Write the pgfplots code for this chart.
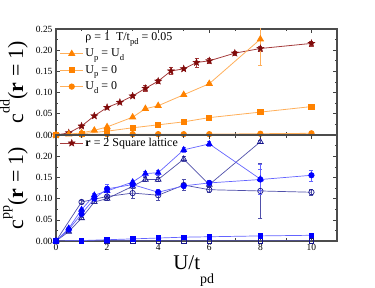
\documentclass[border=0pt]{standalone}
\usepackage{pgfplots}
\pgfplotsset{compat=1.18}
\usepackage{fontspec}
\setmainfont{Liberation Serif}
\usetikzlibrary{plotmarks}
\definecolor{dred}{RGB}{128,10,10}
\definecolor{dredl}{RGB}{165,60,60}
\definecolor{orm}{RGB}{255,130,0}
\definecolor{orl}{RGB}{255,175,90}
\definecolor{bm}{RGB}{0,0,255}
\definecolor{bl}{RGB}{100,100,255}
\definecolor{nv}{RGB}{20,20,140}
\definecolor{nvl}{RGB}{80,80,170}

\pgfdeclareplotmark{fstar}{%
  \pgfpathmoveto{\pgfpointpolar{90}{\pgfplotmarksize}}%
  \pgfpathlineto{\pgfpointpolar{126}{0.42\pgfplotmarksize}}%
  \pgfpathlineto{\pgfpointpolar{162}{\pgfplotmarksize}}%
  \pgfpathlineto{\pgfpointpolar{198}{0.42\pgfplotmarksize}}%
  \pgfpathlineto{\pgfpointpolar{234}{\pgfplotmarksize}}%
  \pgfpathlineto{\pgfpointpolar{270}{0.42\pgfplotmarksize}}%
  \pgfpathlineto{\pgfpointpolar{306}{\pgfplotmarksize}}%
  \pgfpathlineto{\pgfpointpolar{342}{0.42\pgfplotmarksize}}%
  \pgfpathlineto{\pgfpointpolar{18}{\pgfplotmarksize}}%
  \pgfpathlineto{\pgfpointpolar{54}{0.42\pgfplotmarksize}}%
  \pgfpathclose
  \pgfusepathqfillstroke}

\newcommand{\sub}[1]{\raisebox{-0.3em}{\fontsize{0.72em}{1em}\selectfont #1}}

\pgfplotstableread{
x y e
0 0 0
0.5 0.005 0.001
1 0.021 0.002
1.5 0.045 0.002
2 0.065 0.002
2.5 0.077 0.002
3 0.092 0.003
3.5 0.110 0.007
4 0.127 0.004
4.5 0.151 0.008
5 0.156 0.004
5.5 0.171 0.011
6 0.175 0.006
7 0.193 0.005
8 0.204 0.006
10 0.216 0.006
}\stars
\pgfplotstableread{
x y e
0 0 0
0.5 0.002 0
1 0.005 0.001
1.5 0.011 0.001
2 0.019 0.002
3 0.042 0.002
3.5 0.062 0.002
4 0.069 0.002
5 0.095 0.003
6 0.121 0.004
8 0.226 0.061
}\otri
\pgfplotstableread{
x y e
0 0 0
1 0.003 0
2 0.009 0
3 0.017 0
4 0.024 0
5 0.031 0
6 0.041 0
8 0.054 0
10 0.067 0
}\osq
\pgfplotstableread{
x y e
0 0 0
1 0.001 0
2 0.002 0
3 0.002 0
4 0.002 0
5 0.002 0
6 0.002 0
8 0.003 0
10 0.004 0
}\ocirc
\pgfplotstableread{
x y e
0 0 0
0.5 0.030 0.003
1 0.074 0.004
1.5 0.108 0.004
2 0.118 0.010
3 0.139 0.004
3.5 0.159 0.006
4 0.161 0.007
5 0.215 0.006
6 0.229 0.006
8 0.146 0.035
}\bftri
\pgfplotstableread{
x y e
0 0 0
0.5 0.022 0.002
1 0.054 0.003
1.5 0.092 0.004
2 0.100 0.004
3 0.129 0.004
3.5 0.145 0.005
4 0.145 0.005
5 0.193 0.006
6 0.133 0.005
8 0.234 0.004
}\botri
\pgfplotstableread{
x y e
0 0 0
0.5 0.027 0.002
1 0.064 0.003
1.5 0.100 0.004
2 0.123 0.012
3 0.133 0.005
4 0.115 0.006
5 0.130 0.006
6 0.137 0.006
8 0.145 0.025
10 0.155 0.013
}\bfcirc
\pgfplotstableread{
x y e
0 0 0
1 0.092 0.003
2 0.105 0.004
3 0.113 0.012
4 0.108 0.012
5 0.132 0.013
6 0.121 0.005
8 0.118 0.065
10 0.115 0.007
}\bocirc
\pgfplotstableread{
x y e
0 0 0
1 0.001 0
2 0.003 0
3 0.005 0
4 0.007 0
5 0.009 0
6 0.010 0
8 0.012 0
10 0.0135 0
}\bfsq
\pgfplotstableread{
x y e
0 0 0
1 0.0005 0
2 0.0005 0
3 0.0005 0
4 0.0005 0
5 0.0005 0
6 0.0005 0
8 0.0005 0
10 0.0005 0
}\bosq

\begin{document}
\begin{tikzpicture}
\pgfplotsset{
  panel/.style={scale only axis, width=281bp, height=106bp,
    xmin=0, xmax=11, ymin=0, ymax=0.25,
    xtick={0,2,4,6,8,10}, minor xtick={1,3,5,7,9},
    minor ytick={0.025,0.075,0.125,0.175,0.225},
    tick align=inside, major tick length=4bp, minor tick length=2.5bp,
    axis line style={black!70, line width=1.1bp},
    every tick/.style={black!75, line width=0.6bp},
    tick label style={font=\fontsize{9.5}{10}\selectfont},
    /pgf/number format/assume math mode=true,
    y tick label style={/pgf/number format/fixed, /pgf/number format/fixed zerofill, /pgf/number format/precision=2},
    ylabel style={at={(axis description cs:-0.117,0.5)}, anchor=base, font=\fontsize{22}{24}\selectfont},
    legend cell align=left,
    legend image code/.code={\draw[mark repeat=2,mark phase=2] plot coordinates {(0cm,0cm)(0.4cm,0cm)(0.8cm,0cm)};},
  },
  starsty/.style={color=dredl, line width=0.8bp, mark=fstar, mark size=3.8bp, mark options={fill=dred, draw=dred, line width=0.3bp}},
  otristy/.style={color=orl, line width=0.8bp, mark=triangle*, mark size=3.5bp, mark options={fill=orm, draw=orm}},
  osqsty/.style={color=orl, line width=0.8bp, mark=square*, mark size=2.6bp, mark options={fill=orm, draw=orm}},
  ocircsty/.style={color=orl, line width=0.8bp, mark=*, mark size=2.7bp, mark options={fill=orm, draw=orm}},
}
% top panel
\begin{axis}[panel, at={(56bp,153bp)}, anchor=south west,
  xticklabels={}, ytick={0,0.05,0.1,0.15,0.2,0.25},
  ylabel={c\raisebox{0.62em}{\fontsize{14}{14}\selectfont dd}(\textbf{r} = 1)},
  legend style={draw=none, fill=none, at={(axis description cs:0.01,0.995)}, anchor=north west,
    font=\fontsize{12}{13}\selectfont, row sep=3bp, inner sep=1bp}]
\addlegendimage{empty legend}
\addlegendentry{ρ = 1\enspace T/t\sub{pd} = 0.05}
\addplot[starsty, forget plot, error bars/.cd, y dir=both, y explicit, error bar style={color=dredl, line width=0.5bp}, error mark options={rotate=90, mark size=2bp, color=dredl, line width=0.5bp}] table[x=x, y=y, y error=e] {\stars};
\addplot[otristy, error bars/.cd, y dir=both, y explicit, error bar style={color=orl, line width=0.5bp}, error mark options={rotate=90, mark size=2bp, color=orl, line width=0.5bp}] table[x=x, y=y, y error=e] {\otri};
\addlegendentry{U\sub{p} = U\sub{d}}
\addplot[osqsty] table[x=x, y=y] {\osq};
\addlegendentry{U\sub{p} = 0}
\addplot[ocircsty] table[x=x, y=y] {\ocirc};
\addlegendentry{U\sub{d} = 0}
\end{axis}
% bottom panel
\begin{axis}[panel, at={(56bp,47bp)}, anchor=south west,
  ytick={0,0.05,0.1,0.15,0.2},
  ylabel={c\raisebox{0.62em}{\fontsize{14}{14}\selectfont pp}(\textbf{r} = 1)},
  xlabel={U/t\raisebox{-14bp}{\fontsize{14}{14}\selectfont pd}},
  xlabel style={at={(axis description cs:0.49,0)}, anchor=north, yshift=-11bp, font=\fontsize{21}{22}\selectfont},
  legend style={draw=none, fill=none, at={(axis description cs:0.01,1.0)}, anchor=north west,
    font=\fontsize{12}{13}\selectfont, inner sep=1bp}]
\addlegendimage{starsty}
\addlegendentry{\textbf{r} = 2 Square lattice}
\addplot[forget plot, color=nvl, line width=0.7bp, mark=square, mark size=2.3bp, mark options={draw=nv, fill=white}] table[x=x, y=y] {\bosq};
\addplot[forget plot, color=bl, line width=0.7bp, mark=square*, mark size=2.3bp, mark options={draw=bm, fill=bm}] table[x=x, y=y] {\bfsq};
\addplot[forget plot, color=nvl, line width=0.7bp, mark=o, mark size=2.7bp, mark options={draw=nv, fill=white},
  error bars/.cd, y dir=both, y explicit, error bar style={color=nvl, line width=0.5bp}, error mark options={rotate=90, mark size=2bp, color=nvl, line width=0.5bp}] table[x=x, y=y, y error=e] {\bocirc};
\addplot[forget plot, color=nvl, line width=0.7bp, mark=triangle, mark size=3.3bp, mark options={draw=nv, fill=white},
  error bars/.cd, y dir=both, y explicit, error bar style={color=nvl, line width=0.5bp}, error mark options={rotate=90, mark size=2bp, color=nvl, line width=0.5bp}] table[x=x, y=y, y error=e] {\botri};
\addplot[forget plot, color=bl, line width=0.7bp, mark=*, mark size=2.7bp, mark options={draw=bm, fill=bm},
  error bars/.cd, y dir=both, y explicit, error bar style={color=bl, line width=0.5bp}, error mark options={rotate=90, mark size=2bp, color=bl, line width=0.5bp}] table[x=x, y=y, y error=e] {\bfcirc};
\addplot[forget plot, color=bl, line width=0.7bp, mark=triangle*, mark size=3.3bp, mark options={draw=bm, fill=bm},
  error bars/.cd, y dir=both, y explicit, error bar style={color=bl, line width=0.5bp}, error mark options={rotate=90, mark size=2bp, color=bl, line width=0.5bp}] table[x=x, y=y, y error=e] {\bftri};
\end{axis}
\pgfresetboundingbox
\path[use as bounding box] (0,0) rectangle (375bp,288bp);
\end{tikzpicture}
\end{document}
